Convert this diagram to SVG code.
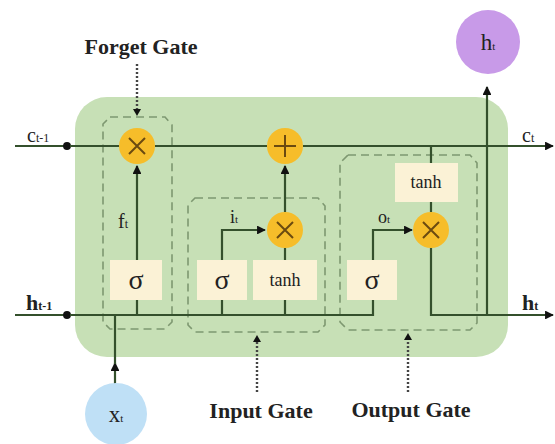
<svg xmlns="http://www.w3.org/2000/svg" width="555" height="444" viewBox="0 0 555 444">
<defs>
<style>
.ln{stroke:#34502c;stroke-width:2.2;fill:none}
.dash{stroke:#7e9871;stroke-width:1.6;fill:none;stroke-dasharray:8,5}
.dot{stroke:#444;stroke-width:2.4;fill:none;stroke-dasharray:2,2}
.op{fill:#f6bd2a}
.opm{stroke:#6b4a10;stroke-width:2;fill:none}
.box{fill:#fbf2d6}
.t{font-family:"Liberation Serif",serif;fill:#222}
.lab{font-family:"Liberation Serif",serif;font-weight:bold;font-size:22px;fill:#222}
</style>
<marker id="ah" viewBox="0 0 10 10" refX="9" refY="5" markerWidth="4" markerHeight="4" orient="auto"><path d="M0,0L10,5L0,10z" fill="#111"/></marker>
<marker id="dt" viewBox="0 0 10 10" refX="5" refY="5" markerWidth="4" markerHeight="4"><circle cx="5" cy="5" r="4.5" fill="#111"/></marker>
</defs>
<rect x="75" y="97" width="433" height="260" rx="32" fill="#c7e0b6"/>
<g id="gates">
<path class="dash" d="M110,117H165L172,125V322L165,329H110L103,322V124Z"/>
<path class="dash" d="M195,198H318L325,206V325L318,332H195L188,325V205Z"/>
<path class="dash" d="M348,155H470L477,163V323L470,330H348L340,322V163Z"/>
</g>
<g id="connectors">
<path class="ln" d="M15,146H67" marker-end="url(#dt)"/>
<path class="ln" d="M70,146H119"/>
<path class="ln" d="M155,146H267"/>
<path class="ln" d="M303,146H553" marker-end="url(#ah)"/>
<path class="ln" d="M15,315H67" marker-end="url(#dt)"/>
<path class="ln" d="M70,315H373V300"/>
<path class="ln" d="M431,248V315H553" marker-end="url(#ah)"/>
<path class="ln" d="M115,384V363" marker-end="url(#ah)"/>
<path class="ln" d="M115,364V315"/>
<path class="ln" d="M137,300V315M222,300V315M285,300V315"/>
<path class="ln" d="M137,260V166" marker-end="url(#ah)"/>
<path class="ln" d="M222,260V230H265" marker-end="url(#ah)"/>
<path class="ln" d="M285,260V248"/>
<path class="ln" d="M285,212V166" marker-end="url(#ah)"/>
<path class="ln" d="M373,260V230H412" marker-end="url(#ah)"/>
<path class="ln" d="M431,146V163M431,202V212"/>
<path class="ln" d="M487,315V87" marker-end="url(#ah)"/>
<path class="dot" d="M137,64V110"/>
<path d="M133,109L137,116L141,109Z" fill="#111"/>
<path class="dot" d="M257,392V341"/>
<path d="M253,342L257,335L261,342Z" fill="#111"/>
<path class="dot" d="M408,392V339"/>
<path d="M404,340L408,333L412,340Z" fill="#111"/>
</g>
<g id="forget-mul"><circle class="op" cx="137" cy="146" r="18"/><path class="opm" d="M129,138L145,154M145,138L129,154"/></g>
<g id="add"><circle class="op" cx="285" cy="146" r="18"/><path class="opm" d="M285,135V157M274,146H296"/></g>
<g id="input-mul"><circle class="op" cx="285" cy="230" r="18"/><path class="opm" d="M277,222L293,238M293,222L277,238"/></g>
<g id="output-mul"><circle class="op" cx="431" cy="230" r="18"/><path class="opm" d="M423,222L439,238M439,222L423,238"/></g>
<g id="forget-sigma"><rect class="box" x="110" y="260" width="52" height="40"/><text class="t" x="136" y="289" font-size="28" text-anchor="middle">σ</text></g>
<g id="input-sigma"><rect class="box" x="197" y="260" width="50" height="40"/><text class="t" x="222" y="289" font-size="28" text-anchor="middle">σ</text></g>
<g id="input-tanh"><rect class="box" x="253" y="260" width="64" height="40"/><text class="t" x="285" y="286" font-size="18" text-anchor="middle">tanh</text></g>
<g id="output-sigma"><rect class="box" x="347" y="260" width="50" height="40"/><text class="t" x="372" y="289" font-size="28" text-anchor="middle">σ</text></g>
<g id="output-tanh"><rect class="box" x="395" y="163" width="63" height="39"/><text class="t" x="426" y="188" font-size="18" text-anchor="middle">tanh</text></g>
<g id="ht-out"><circle cx="488" cy="42" r="32" fill="#c89ae8"/><text class="t" x="488" y="50" font-size="23" text-anchor="middle">h<tspan font-size="11">t</tspan></text></g>
<g id="xt-in"><circle cx="116" cy="414" r="31" fill="#bfe0f6"/><text class="t" x="116" y="422" font-size="23" text-anchor="middle">x<tspan font-size="11">t</tspan></text></g>
<g id="labels">
<text class="lab" x="141" y="54" text-anchor="middle">Forget Gate</text>
<text class="lab" x="261" y="418" text-anchor="middle">Input Gate</text>
<text class="lab" x="411" y="417" text-anchor="middle">Output Gate</text>
<text class="t" x="27" y="142" font-size="20">c<tspan font-size="12">t-1</tspan></text>
<text class="t" x="26" y="310" font-size="22" font-weight="bold">h<tspan font-size="12">t-1</tspan></text>
<text class="t" x="522" y="142" font-size="20">c<tspan font-size="12">t</tspan></text>
<text class="t" x="522" y="310" font-size="22" font-weight="bold">h<tspan font-size="12">t</tspan></text>
<text class="t" x="118" y="228" font-size="20">f<tspan font-size="12">t</tspan></text>
<text class="t" x="230" y="223" font-size="18">i<tspan font-size="11">t</tspan></text>
<text class="t" x="378" y="223" font-size="18">o<tspan font-size="11">t</tspan></text>
</g>
</svg>
